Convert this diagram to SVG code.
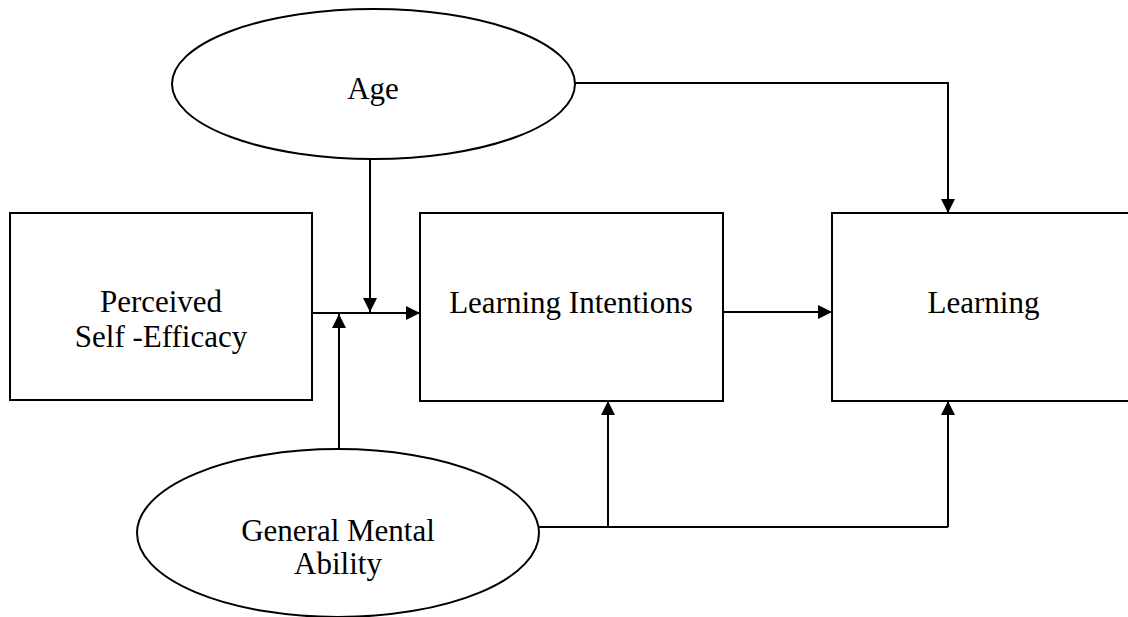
<svg xmlns="http://www.w3.org/2000/svg" width="1128" height="617" viewBox="0 0 1128 617">
<style>
.box{fill:#fff;stroke:#000;stroke-width:2}
.lbl{font-family:"Liberation Serif","Times New Roman",serif;font-size:31px;fill:#000;text-anchor:middle}
.ln{fill:none;stroke:#000;stroke-width:2}
</style>
<defs>
<marker id="ah" viewBox="0 0 14 14" refX="14" refY="7" markerWidth="14" markerHeight="14" markerUnits="userSpaceOnUse" orient="auto">
<path d="M0,0 L14,7 L0,14 Z" fill="#000"/>
</marker>
</defs>
<rect width="1128" height="617" fill="#fff"/>
<g id="age">
<ellipse class="box" cx="373.5" cy="84" rx="201.5" ry="75"/>
<text class="lbl" x="373" y="99">Age</text>
</g>
<g id="pse">
<rect class="box" x="10" y="213" width="302" height="187"/>
<text class="lbl" x="161" y="312">Perceived</text>
<text class="lbl" x="161" y="347">Self -Efficacy</text>
</g>
<g id="li">
<rect class="box" x="420" y="213" width="303" height="188"/>
<text class="lbl" x="571" y="313">Learning Intentions</text>
</g>
<g id="learning">
<rect class="box" x="832" y="213" width="303" height="188"/>
<text class="lbl" x="983.5" y="313">Learning</text>
</g>
<g id="gma">
<ellipse class="box" cx="338" cy="533" rx="201" ry="84"/>
<text class="lbl" x="338" y="541">General Mental</text>
<text class="lbl" x="338" y="574">Ability</text>
</g>
<g id="connectors">
<path class="ln" d="M312,313 L420,313" marker-end="url(#ah)"/>
<path class="ln" d="M370,159 L370,312" marker-end="url(#ah)"/>
<path class="ln" d="M339,449 L339,314" marker-end="url(#ah)"/>
<path class="ln" d="M723,312 L832,312" marker-end="url(#ah)"/>
<path class="ln" d="M575,83 L948,83 L948,213" marker-end="url(#ah)"/>
<path class="ln" d="M539,527 L948,527"/>
<path class="ln" d="M608,527 L608,401" marker-end="url(#ah)"/>
<path class="ln" d="M948,527 L948,401" marker-end="url(#ah)"/>
</g>
</svg>
